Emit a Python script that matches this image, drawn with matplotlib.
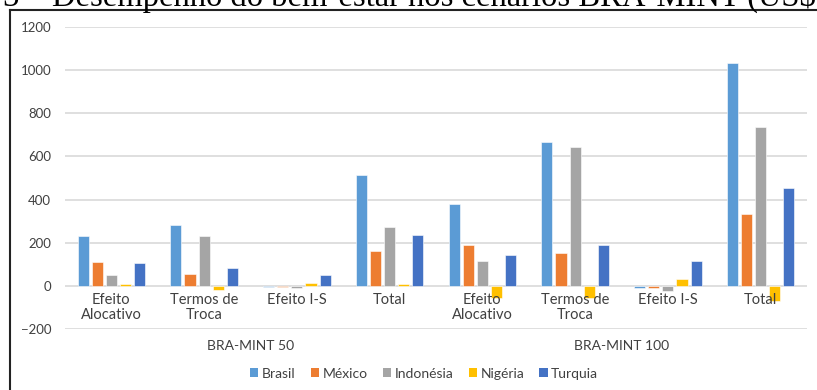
import matplotlib.pyplot as plt
import matplotlib.transforms as mtransforms
from matplotlib.lines import Line2D
from matplotlib.patches import Patch
import numpy as np

plt.rcParams['font.family'] = ['Lato', 'DejaVu Sans']

# welfare decomposition per scenario (US$ millions)
categories = ['Efeito\nAlocativo', 'Termos de\nTroca', 'Efeito I-S', 'Total',
              'Efeito\nAlocativo', 'Termos de\nTroca', 'Efeito I-S', 'Total']
scenarios = ['BRA-MINT 50', 'BRA-MINT 100']
countries = ['Brasil', 'México', 'Indonésia', 'Nigéria', 'Turquia']

brasil = [231, 281, -4, 512, 380, 665, -11, 1034]
mexico = [111, 54, -4, 160, 191, 154, -8, 335]
indonesia = [51, 231, -9, 274, 115, 643, -24, 734]
nigeria = [11, -18, 14, 8, -54, -54, 34, -71]
turquia = [105, 83, 49, 235, 146, 188, 118, 454]

series = [brasil, mexico, indonesia, nigeria, turquia]
colors = ['#5B9BD5', '#ED7D31', '#A5A5A5', '#FFC000', '#4472C4']
text_color = '#404040'

fig = plt.figure(figsize=(8.17, 3.9), dpi=100)
ax = fig.add_axes([65 / 817, 1 - 329.3 / 390, 742 / 817, 302.6 / 390])

x = np.arange(len(categories))
pitch = 0.152
width = 0.12
for j, (vals, c) in enumerate(zip(series, colors)):
    ax.bar(x + (j - 2) * pitch, vals, width, color=c,
           edgecolor='white', linewidth=0.4, zorder=3)

ax.set_xlim(-0.5, len(categories) - 0.5)
ax.set_ylim(-200, 1200)
ax.set_yticks(np.arange(-200, 1201, 200))
ax.grid(axis='y', color='#d9d9d9', linewidth=1.2, zorder=0)
ax.set_xticks([])
for s in ax.spines.values():
    s.set_visible(False)
ax.tick_params(axis='y', length=0, pad=10, labelsize=9.5, labelcolor=text_color)

# two-level category axis
for xi, lab in zip(x, categories):
    ax.text(xi, -33, lab, ha='center', va='top', fontsize=10.5,
            color=text_color, linespacing=1.1, zorder=4)
trans = mtransforms.blended_transform_factory(ax.transData, ax.transAxes)
for k, name in enumerate(scenarios):
    ax.text(k * 4 + 1.5, -0.056, name, transform=trans, ha='center',
            va='center', fontsize=10, color=text_color)

handles = [Patch(facecolor=c, edgecolor='none') for c in colors]
fig.legend(handles, countries, loc='center', bbox_to_anchor=(0.519, 0.042),
           ncol=5, frameon=False, fontsize=10, handlelength=0.6,
           handleheight=0.6, handletextpad=0.25, columnspacing=1.1,
           labelcolor=text_color)

# page frame and figure caption above the chart
fig.add_artist(Line2D([9.5 / 817, 9.5 / 817], [0, 1 - 10 / 390],
                      transform=fig.transFigure, color='#222222', lw=1.5))
fig.add_artist(Line2D([9.5 / 817, 1], [1 - 10 / 390, 1 - 10 / 390],
                      transform=fig.transFigure, color='#222222', lw=1.5))
fig.text(-0.11, 1 - 6 / 390,
         'Figura 3 – Desempenho do bem-estar nos cenários BRA-MINT (US$ milhões)',
         fontsize=23.5, family=['Liberation Serif', 'DejaVu Serif'],
         ha='left', va='baseline', color='black')

fig.savefig('out.png', dpi=100)
